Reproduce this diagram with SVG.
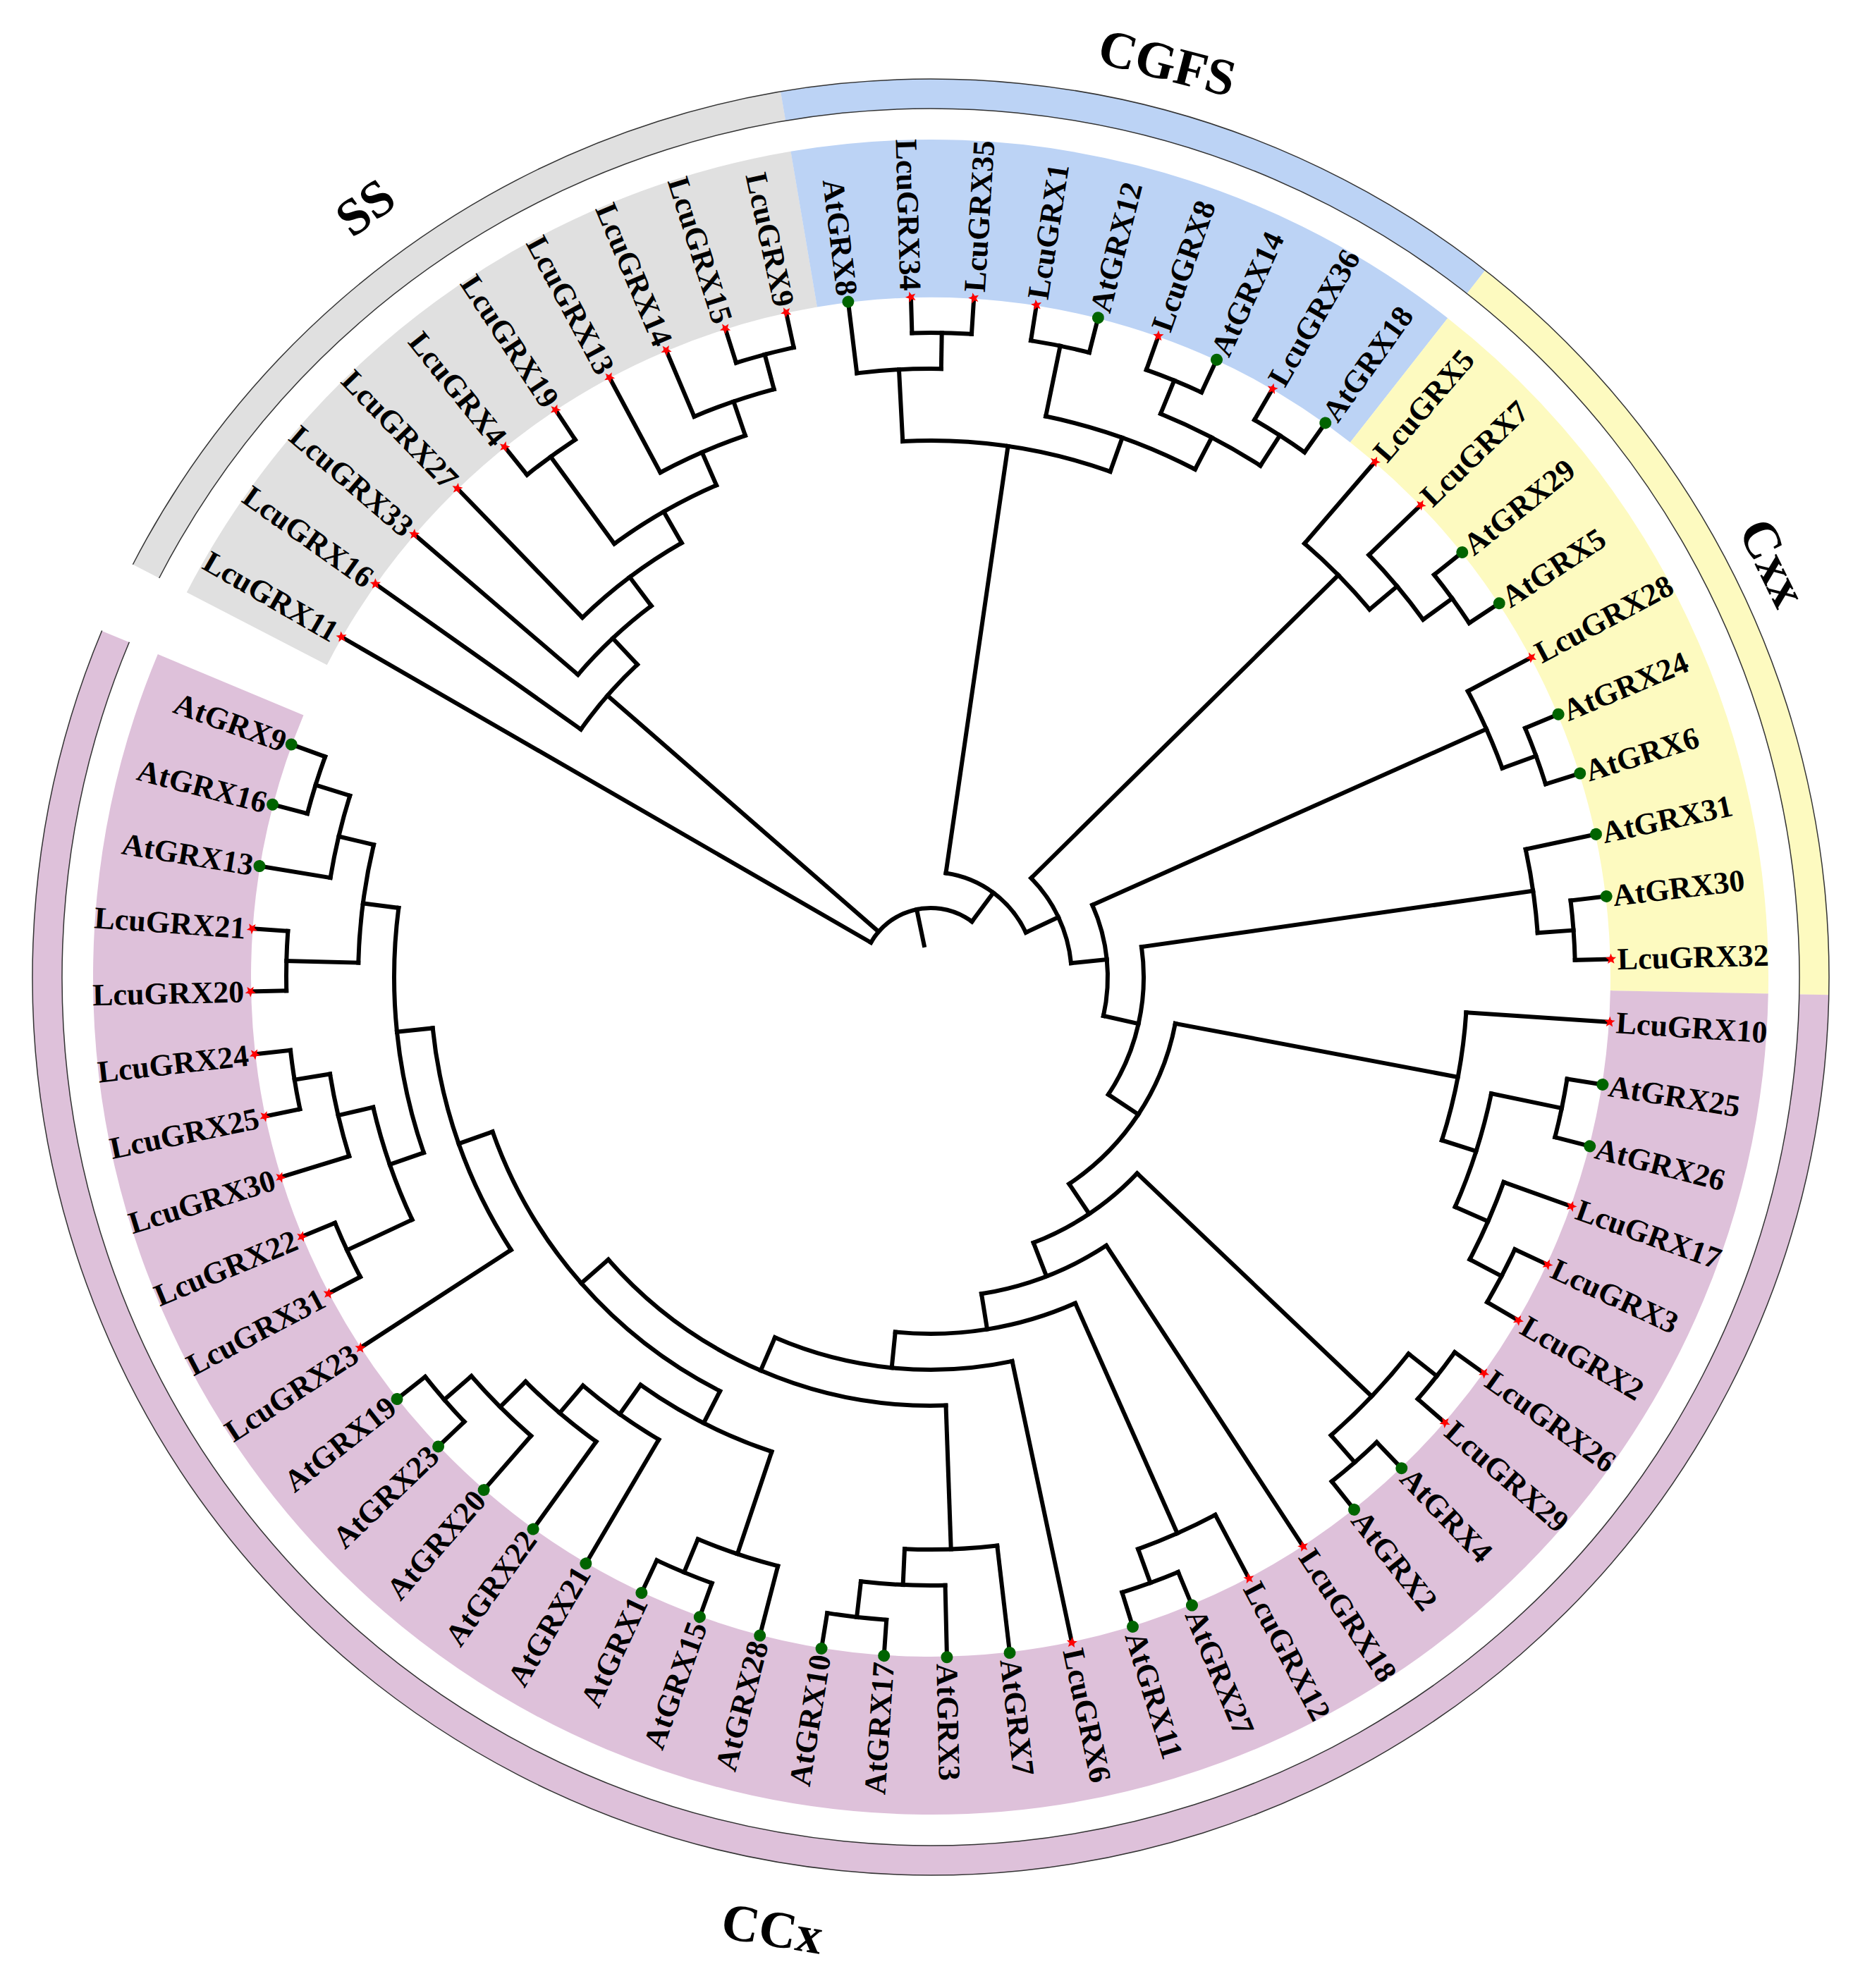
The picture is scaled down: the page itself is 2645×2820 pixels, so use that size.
<svg xmlns="http://www.w3.org/2000/svg" xmlns:xlink="http://www.w3.org/1999/xlink" width="2645" height="2820" viewBox="0 0 2645 2820">
<style>
.b{fill:none;stroke:#000;stroke-width:6;stroke-linecap:square}
.t{font-family:"Liberation Serif","Times New Roman",serif;font-weight:bold;font-size:44px;fill:#000}
.f{text-anchor:end}
.gl{font-family:"Liberation Serif","Times New Roman",serif;font-weight:bold;font-size:74px;fill:#000;text-anchor:middle}
</style>
<defs>
<path id="st" d="M0,-8L2,-2.75L7.61,-2.47L3.23,1.05L4.7,6.47L0,3.4L-4.7,6.47L-3.23,1.05L-7.61,-2.47L-2,-2.75Z" fill="#FF0000"/>
<circle id="dt" r="8.5" fill="#006400"/>
</defs>
<rect width="2645" height="2820" fill="#fff"/>
<g id="bands" transform="translate(1320 1386)" fill="none">
<circle r="1076" stroke="#E0E0E0" stroke-width="224" stroke-dasharray="995.91 99999" transform="rotate(207.348)"/>
<circle r="1076" stroke="#BCD3F5" stroke-width="224" stroke-dasharray="896.30 99999" transform="rotate(260.379)"/>
<circle r="1076" stroke="#FDFAC0" stroke-width="224" stroke-dasharray="995.89 99999" transform="rotate(308.106)"/>
<circle r="1076" stroke="#DEC1DA" stroke-width="224" stroke-dasharray="3784.42 99999" transform="rotate(361.136)"/>
<circle r="1253" stroke="#E0E0E0" stroke-width="42" stroke-dasharray="1159.74 99999" transform="rotate(207.348)"/>
<circle r="1253" stroke="#BCD3F5" stroke-width="42" stroke-dasharray="1043.75 99999" transform="rotate(260.379)"/>
<circle r="1253" stroke="#FDFAC0" stroke-width="42" stroke-dasharray="1159.71 99999" transform="rotate(308.106)"/>
<circle r="1253" stroke="#DEC1DA" stroke-width="42" stroke-dasharray="4406.95 99999" transform="rotate(361.136)"/>
<circle r="1232" stroke="#333" stroke-width="1.5" stroke-dasharray="7639.86 99999" transform="rotate(207.348)"/>
<circle r="1274" stroke="#333" stroke-width="1.5" stroke-dasharray="7900.31 99999" transform="rotate(207.348)"/>
</g>
<g id="connectors" class="b" transform="translate(1320 1386)">
<circle r="98" stroke-dasharray="165.17 9999" transform="rotate(210)"/>
<circle r="149" stroke-dasharray="147.13 9999" transform="rotate(278.277)"/>
<circle r="200" stroke-dasharray="135.82 9999" transform="rotate(315.398)"/>
<circle r="251" stroke-dasharray="160.87 9999" transform="rotate(335.947)"/>
<circle r="302" stroke-dasharray="219.39 9999" transform="rotate(351.856)"/>
<circle r="353" stroke-dasharray="280.09 9999" transform="rotate(370.748)"/>
<circle r="404" stroke-dasharray="178.38 9999" transform="rotate(403.561)"/>
<circle r="455" stroke-dasharray="191.23 9999" transform="rotate(416.818)"/>
<circle r="506" stroke-dasharray="261.42 9999" transform="rotate(426.098)"/>
<circle r="557" stroke-dasharray="343.56 9999" transform="rotate(438.03)"/>
<circle r="608" stroke-dasharray="539.00 9999" transform="rotate(447.973)"/>
<circle r="659" stroke-dasharray="501.29 9999" transform="rotate(476.975)"/>
<circle r="710" stroke-dasharray="336.79 9999" transform="rotate(506.97)"/>
<circle r="761" stroke-dasharray="352.17 9999" transform="rotate(520.89)"/>
<circle r="812" stroke-dasharray="169.10 9999" transform="rotate(541.439)"/>
<circle r="863" stroke-dasharray="119.80 9999" transform="rotate(549.394)"/>
<circle r="914" stroke-dasharray="84.60 9999" transform="rotate(554.697)"/>
<circle r="914" stroke-dasharray="84.60 9999" transform="rotate(538.788)"/>
<circle r="812" stroke-dasharray="169.10 9999" transform="rotate(514.924)"/>
<circle r="863" stroke-dasharray="119.80 9999" transform="rotate(522.879)"/>
<circle r="914" stroke-dasharray="84.60 9999" transform="rotate(528.182)"/>
<circle r="914" stroke-dasharray="84.60 9999" transform="rotate(512.273)"/>
<circle r="710" stroke-dasharray="209.46 9999" transform="rotate(468.523)"/>
<circle r="761" stroke-dasharray="132.06 9999" transform="rotate(480.455)"/>
<circle r="812" stroke-dasharray="131.52 9999" transform="rotate(485.758)"/>
<circle r="863" stroke-dasharray="119.80 9999" transform="rotate(491.061)"/>
<circle r="914" stroke-dasharray="84.60 9999" transform="rotate(496.364)"/>
<circle r="863" stroke-dasharray="119.82 9999" transform="rotate(464.545)"/>
<circle r="914" stroke-dasharray="84.60 9999" transform="rotate(469.848)"/>
<circle r="812" stroke-dasharray="131.53 9999" transform="rotate(443.333)"/>
<circle r="863" stroke-dasharray="119.82 9999" transform="rotate(448.636)"/>
<circle r="914" stroke-dasharray="84.60 9999" transform="rotate(453.939)"/>
<circle r="863" stroke-dasharray="119.82 9999" transform="rotate(422.121)"/>
<circle r="914" stroke-dasharray="84.60 9999" transform="rotate(427.424)"/>
<circle r="863" stroke-dasharray="159.75 9999" transform="rotate(398.258)"/>
<circle r="914" stroke-dasharray="84.60 9999" transform="rotate(406.212)"/>
<circle r="914" stroke-dasharray="84.60 9999" transform="rotate(395.606)"/>
<circle r="761" stroke-dasharray="184.89 9999" transform="rotate(363.788)"/>
<circle r="812" stroke-dasharray="169.10 9999" transform="rotate(371.742)"/>
<circle r="863" stroke-dasharray="119.82 9999" transform="rotate(379.697)"/>
<circle r="914" stroke-dasharray="84.60 9999" transform="rotate(385)"/>
<circle r="914" stroke-dasharray="84.60 9999" transform="rotate(369.091)"/>
<circle r="863" stroke-dasharray="119.80 9999" transform="rotate(347.879)"/>
<circle r="914" stroke-dasharray="84.60 9999" transform="rotate(353.182)"/>
<circle r="863" stroke-dasharray="119.80 9999" transform="rotate(331.97)"/>
<circle r="914" stroke-dasharray="84.60 9999" transform="rotate(337.273)"/>
<circle r="812" stroke-dasharray="131.52 9999" transform="rotate(310.758)"/>
<circle r="863" stroke-dasharray="119.80 9999" transform="rotate(316.061)"/>
<circle r="914" stroke-dasharray="84.60 9999" transform="rotate(321.364)"/>
<circle r="761" stroke-dasharray="299.33 9999" transform="rotate(267.008)"/>
<circle r="812" stroke-dasharray="225.46 9999" transform="rotate(281.591)"/>
<circle r="863" stroke-dasharray="159.75 9999" transform="rotate(292.197)"/>
<circle r="914" stroke-dasharray="84.60 9999" transform="rotate(300.152)"/>
<circle r="914" stroke-dasharray="84.60 9999" transform="rotate(289.545)"/>
<circle r="914" stroke-dasharray="84.60 9999" transform="rotate(278.939)"/>
<circle r="863" stroke-dasharray="119.82 9999" transform="rotate(263.03)"/>
<circle r="914" stroke-dasharray="84.60 9999" transform="rotate(268.333)"/>
<circle r="608" stroke-dasharray="122.22 9999" transform="rotate(215.303)"/>
<circle r="659" stroke-dasharray="142.96 9999" transform="rotate(220.606)"/>
<circle r="710" stroke-dasharray="176.61 9999" transform="rotate(225.909)"/>
<circle r="761" stroke-dasharray="167.27 9999" transform="rotate(233.864)"/>
<circle r="914" stroke-dasharray="84.60 9999" transform="rotate(231.212)"/>
<circle r="812" stroke-dasharray="131.52 9999" transform="rotate(241.818)"/>
<circle r="863" stroke-dasharray="119.82 9999" transform="rotate(247.121)"/>
<circle r="914" stroke-dasharray="84.60 9999" transform="rotate(252.424)"/>
<path d="M46 0H98" transform="rotate(258.283)"/>
<path d="M98 0H965" transform="rotate(210)"/>
<path d="M608 0H965" transform="rotate(215.303)"/>
<path d="M659 0H965" transform="rotate(220.606)"/>
<path d="M710 0H965" transform="rotate(225.909)"/>
<path d="M914 0H965" transform="rotate(231.212)"/>
<path d="M914 0H965" transform="rotate(236.515)"/>
<path d="M812 0H965" transform="rotate(241.818)"/>
<path d="M863 0H965" transform="rotate(247.121)"/>
<path d="M914 0H965" transform="rotate(252.424)"/>
<path d="M914 0H965" transform="rotate(257.727)"/>
<path d="M863 0H965" transform="rotate(263.03)"/>
<path d="M914 0H965" transform="rotate(268.333)"/>
<path d="M914 0H965" transform="rotate(273.636)"/>
<path d="M914 0H965" transform="rotate(278.939)"/>
<path d="M914 0H965" transform="rotate(284.242)"/>
<path d="M914 0H965" transform="rotate(289.545)"/>
<path d="M914 0H965" transform="rotate(294.848)"/>
<path d="M914 0H965" transform="rotate(300.152)"/>
<path d="M914 0H965" transform="rotate(305.455)"/>
<path d="M812 0H965" transform="rotate(310.758)"/>
<path d="M863 0H965" transform="rotate(316.061)"/>
<path d="M914 0H965" transform="rotate(321.364)"/>
<path d="M914 0H965" transform="rotate(326.667)"/>
<path d="M863 0H965" transform="rotate(331.97)"/>
<path d="M914 0H965" transform="rotate(337.273)"/>
<path d="M914 0H965" transform="rotate(342.576)"/>
<path d="M863 0H965" transform="rotate(347.879)"/>
<path d="M914 0H965" transform="rotate(353.182)"/>
<path d="M914 0H965" transform="rotate(358.485)"/>
<path d="M761 0H965" transform="rotate(363.788)"/>
<path d="M914 0H965" transform="rotate(369.091)"/>
<path d="M914 0H965" transform="rotate(374.394)"/>
<path d="M863 0H965" transform="rotate(379.697)"/>
<path d="M914 0H965" transform="rotate(385)"/>
<path d="M914 0H965" transform="rotate(390.303)"/>
<path d="M914 0H965" transform="rotate(395.606)"/>
<path d="M914 0H965" transform="rotate(400.909)"/>
<path d="M914 0H965" transform="rotate(406.212)"/>
<path d="M914 0H965" transform="rotate(411.515)"/>
<path d="M455 0H965" transform="rotate(416.818)"/>
<path d="M863 0H965" transform="rotate(422.121)"/>
<path d="M914 0H965" transform="rotate(427.424)"/>
<path d="M914 0H965" transform="rotate(432.727)"/>
<path d="M557 0H965" transform="rotate(438.03)"/>
<path d="M812 0H965" transform="rotate(443.333)"/>
<path d="M863 0H965" transform="rotate(448.636)"/>
<path d="M914 0H965" transform="rotate(453.939)"/>
<path d="M914 0H965" transform="rotate(459.242)"/>
<path d="M863 0H965" transform="rotate(464.545)"/>
<path d="M914 0H965" transform="rotate(469.848)"/>
<path d="M914 0H965" transform="rotate(475.152)"/>
<path d="M761 0H965" transform="rotate(480.455)"/>
<path d="M812 0H965" transform="rotate(485.758)"/>
<path d="M863 0H965" transform="rotate(491.061)"/>
<path d="M914 0H965" transform="rotate(496.364)"/>
<path d="M914 0H965" transform="rotate(501.667)"/>
<path d="M710 0H965" transform="rotate(506.97)"/>
<path d="M914 0H965" transform="rotate(512.273)"/>
<path d="M914 0H965" transform="rotate(517.576)"/>
<path d="M863 0H965" transform="rotate(522.879)"/>
<path d="M914 0H965" transform="rotate(528.182)"/>
<path d="M914 0H965" transform="rotate(533.485)"/>
<path d="M914 0H965" transform="rotate(538.788)"/>
<path d="M914 0H965" transform="rotate(544.091)"/>
<path d="M863 0H965" transform="rotate(549.394)"/>
<path d="M914 0H965" transform="rotate(554.697)"/>
<path d="M914 0H965" transform="rotate(560)"/>
<path d="M863 0H914" transform="rotate(255.076)"/>
<path d="M812 0H863" transform="rotate(251.098)"/>
<path d="M761 0H812" transform="rotate(246.458)"/>
<path d="M761 0H914" transform="rotate(233.864)"/>
<path d="M710 0H761" transform="rotate(240.161)"/>
<path d="M659 0H710" transform="rotate(233.035)"/>
<path d="M608 0H659" transform="rotate(226.821)"/>
<path d="M98 0H608" transform="rotate(221.062)"/>
<path d="M863 0H914" transform="rotate(270.985)"/>
<path d="M761 0H863" transform="rotate(267.008)"/>
<path d="M812 0H914" transform="rotate(281.591)"/>
<path d="M863 0H914" transform="rotate(292.197)"/>
<path d="M863 0H914" transform="rotate(302.803)"/>
<path d="M812 0H863" transform="rotate(297.5)"/>
<path d="M761 0H812" transform="rotate(289.545)"/>
<path d="M149 0H761" transform="rotate(278.277)"/>
<path d="M863 0H914" transform="rotate(324.015)"/>
<path d="M812 0H863" transform="rotate(320.038)"/>
<path d="M200 0H812" transform="rotate(315.398)"/>
<path d="M863 0H914" transform="rotate(339.924)"/>
<path d="M251 0H863" transform="rotate(335.947)"/>
<path d="M863 0H914" transform="rotate(355.833)"/>
<path d="M302 0H863" transform="rotate(351.856)"/>
<path d="M812 0H914" transform="rotate(371.742)"/>
<path d="M863 0H914" transform="rotate(387.652)"/>
<path d="M812 0H863" transform="rotate(383.674)"/>
<path d="M761 0H812" transform="rotate(377.708)"/>
<path d="M353 0H761" transform="rotate(370.748)"/>
<path d="M863 0H914" transform="rotate(398.258)"/>
<path d="M863 0H914" transform="rotate(408.864)"/>
<path d="M404 0H863" transform="rotate(403.561)"/>
<path d="M863 0H914" transform="rotate(430.076)"/>
<path d="M506 0H863" transform="rotate(426.098)"/>
<path d="M863 0H914" transform="rotate(456.591)"/>
<path d="M812 0H863" transform="rotate(452.614)"/>
<path d="M608 0H812" transform="rotate(447.973)"/>
<path d="M863 0H914" transform="rotate(472.5)"/>
<path d="M710 0H863" transform="rotate(468.523)"/>
<path d="M863 0H914" transform="rotate(499.015)"/>
<path d="M812 0H863" transform="rotate(495.038)"/>
<path d="M761 0H812" transform="rotate(490.398)"/>
<path d="M710 0H761" transform="rotate(485.426)"/>
<path d="M659 0H710" transform="rotate(476.975)"/>
<path d="M812 0H914" transform="rotate(514.924)"/>
<path d="M863 0H914" transform="rotate(530.833)"/>
<path d="M812 0H863" transform="rotate(526.856)"/>
<path d="M761 0H812" transform="rotate(520.89)"/>
<path d="M812 0H914" transform="rotate(541.439)"/>
<path d="M863 0H914" transform="rotate(557.348)"/>
<path d="M812 0H863" transform="rotate(553.371)"/>
<path d="M761 0H812" transform="rotate(547.405)"/>
<path d="M710 0H761" transform="rotate(534.148)"/>
<path d="M659 0H710" transform="rotate(520.559)"/>
<path d="M608 0H659" transform="rotate(498.767)"/>
<path d="M557 0H608" transform="rotate(473.37)"/>
<path d="M506 0H557" transform="rotate(455.7)"/>
<path d="M455 0H506" transform="rotate(440.899)"/>
<path d="M404 0H455" transform="rotate(428.859)"/>
<path d="M353 0H404" transform="rotate(416.21)"/>
<path d="M302 0H353" transform="rotate(393.479)"/>
<path d="M251 0H302" transform="rotate(372.668)"/>
<path d="M200 0H251" transform="rotate(354.307)"/>
<path d="M149 0H200" transform="rotate(334.853)"/>
<path d="M98 0H149" transform="rotate(306.565)"/>
</g>
<g id="leaves" class="t" transform="translate(1320 1386)">
<g id="LcuGRX11" transform="rotate(210)"><use href="#st" x="965"/><text class="f" transform="rotate(180)" x="-974" y="15">LcuGRX11</text></g>
<g id="LcuGRX16" transform="rotate(215.303)"><use href="#st" x="965"/><text class="f" transform="rotate(180)" x="-974" y="15">LcuGRX16</text></g>
<g id="LcuGRX33" transform="rotate(220.606)"><use href="#st" x="965"/><text class="f" transform="rotate(180)" x="-974" y="15">LcuGRX33</text></g>
<g id="LcuGRX27" transform="rotate(225.909)"><use href="#st" x="965"/><text class="f" transform="rotate(180)" x="-974" y="15">LcuGRX27</text></g>
<g id="LcuGRX4" transform="rotate(231.212)"><use href="#st" x="965"/><text class="f" transform="rotate(180)" x="-974" y="15">LcuGRX4</text></g>
<g id="LcuGRX19" transform="rotate(236.515)"><use href="#st" x="965"/><text class="f" transform="rotate(180)" x="-974" y="15">LcuGRX19</text></g>
<g id="LcuGRX13" transform="rotate(241.818)"><use href="#st" x="965"/><text class="f" transform="rotate(180)" x="-974" y="15">LcuGRX13</text></g>
<g id="LcuGRX14" transform="rotate(247.121)"><use href="#st" x="965"/><text class="f" transform="rotate(180)" x="-974" y="15">LcuGRX14</text></g>
<g id="LcuGRX15" transform="rotate(252.424)"><use href="#st" x="965"/><text class="f" transform="rotate(180)" x="-974" y="15">LcuGRX15</text></g>
<g id="LcuGRX9" transform="rotate(257.727)"><use href="#st" x="965"/><text class="f" transform="rotate(180)" x="-974" y="15">LcuGRX9</text></g>
<g id="AtGRX8" transform="rotate(263.03)"><use href="#dt" x="965"/><text class="f" transform="rotate(180)" x="-974" y="15">AtGRX8</text></g>
<g id="LcuGRX34" transform="rotate(268.333)"><use href="#st" x="965"/><text class="f" transform="rotate(180)" x="-974" y="15">LcuGRX34</text></g>
<g id="LcuGRX35" transform="rotate(273.636)"><use href="#st" x="965"/><text x="974" y="15">LcuGRX35</text></g>
<g id="LcuGRX1" transform="rotate(278.939)"><use href="#st" x="965"/><text x="974" y="15">LcuGRX1</text></g>
<g id="AtGRX12" transform="rotate(284.242)"><use href="#dt" x="965"/><text x="974" y="15">AtGRX12</text></g>
<g id="LcuGRX8" transform="rotate(289.545)"><use href="#st" x="965"/><text x="974" y="15">LcuGRX8</text></g>
<g id="AtGRX14" transform="rotate(294.848)"><use href="#dt" x="965"/><text x="974" y="15">AtGRX14</text></g>
<g id="LcuGRX36" transform="rotate(300.152)"><use href="#st" x="965"/><text x="974" y="15">LcuGRX36</text></g>
<g id="AtGRX18" transform="rotate(305.455)"><use href="#dt" x="965"/><text x="974" y="15">AtGRX18</text></g>
<g id="LcuGRX5" transform="rotate(310.758)"><use href="#st" x="965"/><text x="974" y="15">LcuGRX5</text></g>
<g id="LcuGRX7" transform="rotate(316.061)"><use href="#st" x="965"/><text x="974" y="15">LcuGRX7</text></g>
<g id="AtGRX29" transform="rotate(321.364)"><use href="#dt" x="965"/><text x="974" y="15">AtGRX29</text></g>
<g id="AtGRX5" transform="rotate(326.667)"><use href="#dt" x="965"/><text x="974" y="15">AtGRX5</text></g>
<g id="LcuGRX28" transform="rotate(331.97)"><use href="#st" x="965"/><text x="974" y="15">LcuGRX28</text></g>
<g id="AtGRX24" transform="rotate(337.273)"><use href="#dt" x="965"/><text x="974" y="15">AtGRX24</text></g>
<g id="AtGRX6" transform="rotate(342.576)"><use href="#dt" x="965"/><text x="974" y="15">AtGRX6</text></g>
<g id="AtGRX31" transform="rotate(347.879)"><use href="#dt" x="965"/><text x="974" y="15">AtGRX31</text></g>
<g id="AtGRX30" transform="rotate(353.182)"><use href="#dt" x="965"/><text x="974" y="15">AtGRX30</text></g>
<g id="LcuGRX32" transform="rotate(358.485)"><use href="#st" x="965"/><text x="974" y="15">LcuGRX32</text></g>
<g id="LcuGRX10" transform="rotate(363.788)"><use href="#st" x="965"/><text x="974" y="15">LcuGRX10</text></g>
<g id="AtGRX25" transform="rotate(369.091)"><use href="#dt" x="965"/><text x="974" y="15">AtGRX25</text></g>
<g id="AtGRX26" transform="rotate(374.394)"><use href="#dt" x="965"/><text x="974" y="15">AtGRX26</text></g>
<g id="LcuGRX17" transform="rotate(379.697)"><use href="#st" x="965"/><text x="974" y="15">LcuGRX17</text></g>
<g id="LcuGRX3" transform="rotate(385)"><use href="#st" x="965"/><text x="974" y="15">LcuGRX3</text></g>
<g id="LcuGRX2" transform="rotate(390.303)"><use href="#st" x="965"/><text x="974" y="15">LcuGRX2</text></g>
<g id="LcuGRX26" transform="rotate(395.606)"><use href="#st" x="965"/><text x="974" y="15">LcuGRX26</text></g>
<g id="LcuGRX29" transform="rotate(400.909)"><use href="#st" x="965"/><text x="974" y="15">LcuGRX29</text></g>
<g id="AtGRX4" transform="rotate(406.212)"><use href="#dt" x="965"/><text x="974" y="15">AtGRX4</text></g>
<g id="AtGRX2" transform="rotate(411.515)"><use href="#dt" x="965"/><text x="974" y="15">AtGRX2</text></g>
<g id="LcuGRX18" transform="rotate(416.818)"><use href="#st" x="965"/><text x="974" y="15">LcuGRX18</text></g>
<g id="LcuGRX12" transform="rotate(422.121)"><use href="#st" x="965"/><text x="974" y="15">LcuGRX12</text></g>
<g id="AtGRX27" transform="rotate(427.424)"><use href="#dt" x="965"/><text x="974" y="15">AtGRX27</text></g>
<g id="AtGRX11" transform="rotate(432.727)"><use href="#dt" x="965"/><text x="974" y="15">AtGRX11</text></g>
<g id="LcuGRX6" transform="rotate(438.03)"><use href="#st" x="965"/><text x="974" y="15">LcuGRX6</text></g>
<g id="AtGRX7" transform="rotate(443.333)"><use href="#dt" x="965"/><text x="974" y="15">AtGRX7</text></g>
<g id="AtGRX3" transform="rotate(448.636)"><use href="#dt" x="965"/><text x="974" y="15">AtGRX3</text></g>
<g id="AtGRX17" transform="rotate(453.939)"><use href="#dt" x="965"/><text class="f" transform="rotate(180)" x="-974" y="15">AtGRX17</text></g>
<g id="AtGRX10" transform="rotate(459.242)"><use href="#dt" x="965"/><text class="f" transform="rotate(180)" x="-974" y="15">AtGRX10</text></g>
<g id="AtGRX28" transform="rotate(464.545)"><use href="#dt" x="965"/><text class="f" transform="rotate(180)" x="-974" y="15">AtGRX28</text></g>
<g id="AtGRX15" transform="rotate(469.848)"><use href="#dt" x="965"/><text class="f" transform="rotate(180)" x="-974" y="15">AtGRX15</text></g>
<g id="AtGRX1" transform="rotate(475.152)"><use href="#dt" x="965"/><text class="f" transform="rotate(180)" x="-974" y="15">AtGRX1</text></g>
<g id="AtGRX21" transform="rotate(480.455)"><use href="#dt" x="965"/><text class="f" transform="rotate(180)" x="-974" y="15">AtGRX21</text></g>
<g id="AtGRX22" transform="rotate(485.758)"><use href="#dt" x="965"/><text class="f" transform="rotate(180)" x="-974" y="15">AtGRX22</text></g>
<g id="AtGRX20" transform="rotate(491.061)"><use href="#dt" x="965"/><text class="f" transform="rotate(180)" x="-974" y="15">AtGRX20</text></g>
<g id="AtGRX23" transform="rotate(496.364)"><use href="#dt" x="965"/><text class="f" transform="rotate(180)" x="-974" y="15">AtGRX23</text></g>
<g id="AtGRX19" transform="rotate(501.667)"><use href="#dt" x="965"/><text class="f" transform="rotate(180)" x="-974" y="15">AtGRX19</text></g>
<g id="LcuGRX23" transform="rotate(506.97)"><use href="#st" x="965"/><text class="f" transform="rotate(180)" x="-974" y="15">LcuGRX23</text></g>
<g id="LcuGRX31" transform="rotate(512.273)"><use href="#st" x="965"/><text class="f" transform="rotate(180)" x="-974" y="15">LcuGRX31</text></g>
<g id="LcuGRX22" transform="rotate(517.576)"><use href="#st" x="965"/><text class="f" transform="rotate(180)" x="-974" y="15">LcuGRX22</text></g>
<g id="LcuGRX30" transform="rotate(522.879)"><use href="#st" x="965"/><text class="f" transform="rotate(180)" x="-974" y="15">LcuGRX30</text></g>
<g id="LcuGRX25" transform="rotate(528.182)"><use href="#st" x="965"/><text class="f" transform="rotate(180)" x="-974" y="15">LcuGRX25</text></g>
<g id="LcuGRX24" transform="rotate(533.485)"><use href="#st" x="965"/><text class="f" transform="rotate(180)" x="-974" y="15">LcuGRX24</text></g>
<g id="LcuGRX20" transform="rotate(538.788)"><use href="#st" x="965"/><text class="f" transform="rotate(180)" x="-974" y="15">LcuGRX20</text></g>
<g id="LcuGRX21" transform="rotate(544.091)"><use href="#st" x="965"/><text class="f" transform="rotate(180)" x="-974" y="15">LcuGRX21</text></g>
<g id="AtGRX13" transform="rotate(549.394)"><use href="#dt" x="965"/><text class="f" transform="rotate(180)" x="-974" y="15">AtGRX13</text></g>
<g id="AtGRX16" transform="rotate(554.697)"><use href="#dt" x="965"/><text class="f" transform="rotate(180)" x="-974" y="15">AtGRX16</text></g>
<g id="AtGRX9" transform="rotate(560)"><use href="#dt" x="965"/><text class="f" transform="rotate(180)" x="-974" y="15">AtGRX9</text></g>
</g>
<g id="group-labels" class="gl" transform="translate(1320 1386)">
<text transform="rotate(233.7) translate(1355 0) rotate(90)" y="25">SS</text>
<text transform="rotate(284.5) translate(1340 0) rotate(90)" y="25">CGFS</text>
<text transform="rotate(333.8) translate(1332 0) rotate(90)" y="25">Cxx</text>
<text transform="rotate(99.45) translate(1368 0) rotate(-90)" y="25">CCx</text>
</g>
</svg>
